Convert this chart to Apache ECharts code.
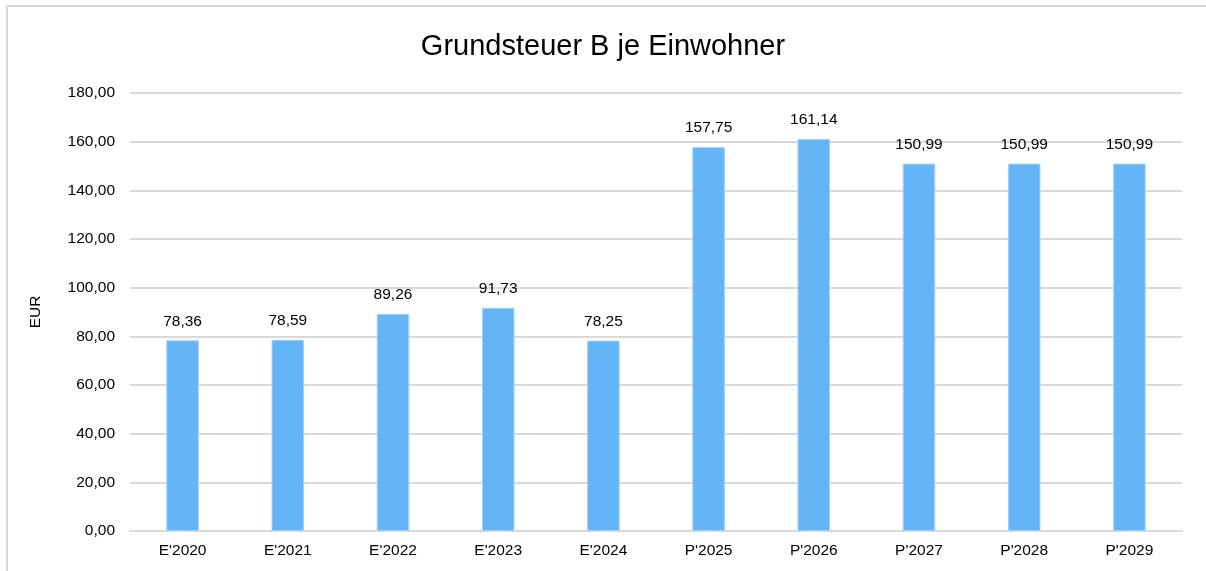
<!DOCTYPE html>
<html>
<head>
<meta charset="utf-8">
<script src="https://cdn.jsdelivr.net/npm/echarts@6/dist/echarts.min.js"></script>
<style>
  html, body { margin: 0; padding: 0; background: #fff; }
  #wrap { position: relative; width: 1206px; height: 571px; overflow: hidden; }
  /* Rahmen links und oben */
  #frame { position: absolute; left: 6px; top: 5px; width: 1300px; height: 700px;
           border-left: 2px solid #d9d9d9; border-top: 2px solid #d9d9d9; }
  #chart { position: absolute; left: 0; top: 0; width: 1206px; height: 571px; }
</style>
</head>
<body>
<div id="wrap">
  <div id="frame"></div>
  <div id="chart"></div>
</div>
<script>
// Jahre (E = Ergebnis, P = Planung)
const categories = ["E'2020", "E'2021", "E'2022", "E'2023", "E'2024", "P'2025", "P'2026", "P'2027", "P'2028", "P'2029"]
// Grundsteuer B je Einwohner in EUR
const values = [78.36, 78.59, 89.26, 91.73, 78.25, 157.75, 161.14, 150.99, 150.99, 150.99]

const fmt = v => v.toFixed(2).replace('.', ',')
const font = 'Liberation Sans, Arial, sans-serif'
const fs = 15.5

const chart = echarts.init(document.getElementById('chart'))
chart.setOption({
  animation: false,
  title: {
    text: 'Grundsteuer B je Einwohner',
    left: 'center',
    top: 27,
    textStyle: { fontFamily: font, fontSize: 29, fontWeight: 'normal', color: '#000' }
  },
  grid: { left: 130, right: 24, top: 93, bottom: 40 },
  xAxis: {
    type: 'category',
    data: categories,
    axisLine: { lineStyle: { color: '#d9d9d9', width: 2 } },
    axisTick: { show: false },
    axisLabel: { fontFamily: font, fontSize: fs, color: '#000', margin: 12 }
  },
  yAxis: {
    type: 'value',
    min: 0,
    max: 180,
    interval: 20,
    name: 'EUR',
    nameLocation: 'middle',
    nameRotate: 90,
    nameGap: 86,
    nameTextStyle: { fontFamily: font, fontSize: fs, color: '#000' },
    axisLabel: { fontFamily: font, fontSize: fs, color: '#000', margin: 15, formatter: fmt },
    splitLine: { lineStyle: { color: '#d9d9d9', width: 2 } }
  },
  series: [
    {
      type: 'bar',
      data: values,
      barWidth: '31%',
      itemStyle: { color: '#64b5f6', borderColor: '#a6d3f9', borderWidth: 1 },
      label: {
        show: true,
        position: 'top',
        distance: 11,
        fontFamily: font,
        fontSize: fs,
        color: '#000',
        formatter: p => fmt(p.value)
      }
    }
  ]
})
</script>
</body>
</html>
